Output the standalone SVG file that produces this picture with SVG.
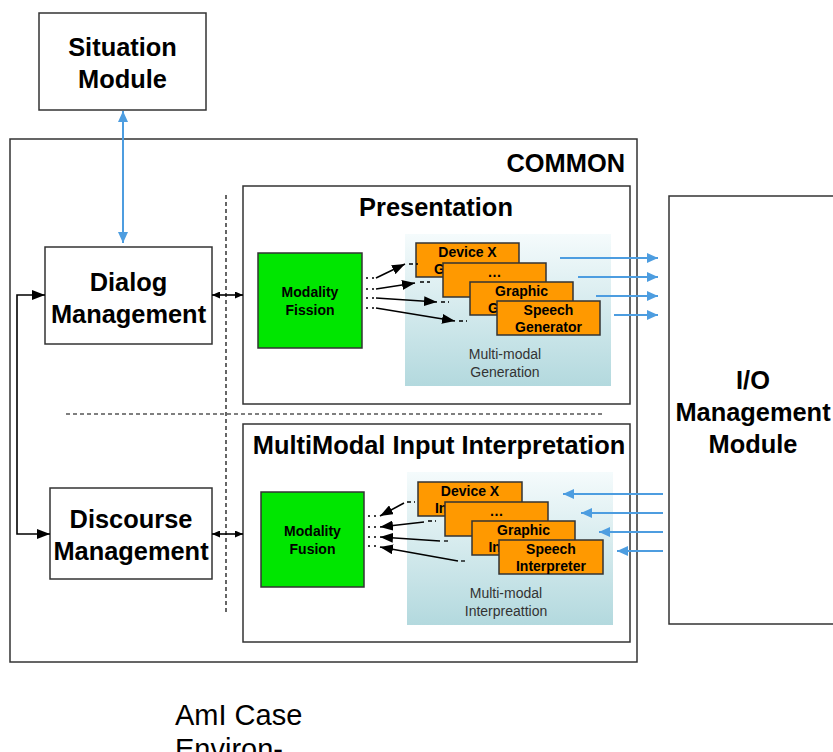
<svg xmlns="http://www.w3.org/2000/svg" width="833" height="752" viewBox="0 0 833 752">
<style>
.box{fill:#fff;stroke:#333;stroke-width:1.5}
.org{fill:#ff9900;stroke:#333;stroke-width:1.5}
.grn{fill:#00e600;stroke:#333;stroke-width:1.5}
.big{font-family:"Liberation Sans",Arial,sans-serif;font-weight:bold;font-size:25.4px;fill:#000;text-anchor:middle}
.sm{font-family:"Liberation Sans",Arial,sans-serif;font-weight:bold;font-size:14px;fill:#000;text-anchor:middle}
.lbl{font-family:"Liberation Sans",Arial,sans-serif;font-size:14px;fill:#333;text-anchor:middle}
.blk{stroke:#000;stroke-width:1.6;fill:none}
.blue{stroke:#4d9de0;stroke-width:2;fill:none}
.dots{stroke:#000;stroke-width:1.3;stroke-dasharray:2 4;fill:none}
.dsh{stroke:#000;stroke-width:1.3;stroke-dasharray:4 3;fill:none}
.sep{stroke:#000;stroke-width:1.2;stroke-dasharray:4 3;fill:none}
</style>
<defs>
<linearGradient id="pg" x1="0" y1="0" x2="0" y2="1">
<stop offset="0" stop-color="#f5fbfc"/>
<stop offset="1" stop-color="#b3d9de"/>
</linearGradient>
<marker id="ab" markerUnits="userSpaceOnUse" markerWidth="13" markerHeight="10" refX="13" refY="5" orient="auto-start-reverse"><path d="M0,0 L13,5 L0,10 z" fill="#000"/></marker>
<marker id="as" markerUnits="userSpaceOnUse" markerWidth="8" markerHeight="7" refX="8" refY="3.5" orient="auto-start-reverse"><path d="M0,0 L8,3.5 L0,7 z" fill="#000"/></marker>
<marker id="au" markerUnits="userSpaceOnUse" markerWidth="11" markerHeight="10" refX="11" refY="5" orient="auto-start-reverse"><path d="M0,0 L11,5 L0,10 z" fill="#4d9de0"/></marker>
</defs>
<rect width="833" height="752" fill="#fff"/>

<g id="common">
<rect class="box" x="10" y="139" width="627" height="523"/>
<text class="big" x="625" y="172" style="text-anchor:end">COMMON</text>
</g>

<g id="situation">
<rect class="box" x="39" y="13" width="167" height="97"/>
<text class="big" x="122.5" y="56">Situation</text>
<text class="big" x="122.5" y="88">Module</text>
</g>

<g id="dialog">
<rect class="box" x="45" y="247" width="167" height="97"/>
<text class="big" x="128.5" y="291">Dialog</text>
<text class="big" x="128.5" y="323">Management</text>
</g>

<g id="discourse">
<rect class="box" x="50" y="488" width="162" height="91"/>
<text class="big" x="131" y="528">Discourse</text>
<text class="big" x="131" y="560">Management</text>
</g>

<g id="separators">
<line class="sep" x1="226" y1="195" x2="226" y2="615"/>
<line class="sep" x1="66" y1="414" x2="603" y2="414"/>
</g>

<g id="presentation">
<rect class="box" x="243" y="186" width="387" height="218"/>
<text class="big" x="436" y="216">Presentation</text>
<rect x="405" y="234" width="206" height="152" fill="url(#pg)"/>
<text class="lbl" x="505" y="359">Multi-modal</text>
<text class="lbl" x="505" y="377">Generation</text>
</g>

<g id="fission">
<rect class="grn" x="258" y="253" width="104" height="95"/>
<text class="sm" x="310" y="297">Modality</text>
<text class="sm" x="310" y="315">Fission</text>
</g>

<g id="gen-devicex">
<rect class="org" x="416" y="243" width="103" height="34"/>
<text class="sm" x="467.5" y="257">Device X</text>
<text class="sm" x="467.5" y="274">Generator</text>
</g>
<g id="gen-dots">
<rect class="org" x="443" y="263" width="103" height="34"/>
<text class="sm" x="494.5" y="277">…</text>
</g>
<g id="gen-graphic">
<rect class="org" x="470" y="282" width="103" height="33"/>
<text class="sm" x="521.5" y="296">Graphic</text>
<text class="sm" x="521.5" y="313">Generator</text>
</g>
<g id="gen-speech">
<rect class="org" x="497" y="301" width="103" height="34"/>
<text class="sm" x="548.5" y="315">Speech</text>
<text class="sm" x="548.5" y="332">Generator</text>
</g>

<g id="mmii">
<rect class="box" x="243" y="424" width="387" height="218"/>
<text class="big" x="439" y="454">MultiModal Input Interpretation</text>
<rect x="407" y="472" width="206" height="153" fill="url(#pg)"/>
<text class="lbl" x="506" y="598">Multi-modal</text>
<text class="lbl" x="506" y="616">Interpreattion</text>
</g>

<g id="fusion">
<rect class="grn" x="261" y="492" width="103" height="95"/>
<text class="sm" x="312.5" y="536">Modality</text>
<text class="sm" x="312.5" y="554">Fusion</text>
</g>

<g id="int-devicex">
<rect class="org" x="418" y="482" width="104" height="34"/>
<text class="sm" x="470" y="496">Device X</text>
<text class="sm" x="470" y="513">Interpreter</text>
</g>
<g id="int-dots">
<rect class="org" x="445" y="502" width="103" height="34"/>
<text class="sm" x="496.5" y="516">…</text>
</g>
<g id="int-graphic">
<rect class="org" x="472" y="521" width="103" height="34"/>
<text class="sm" x="523.5" y="535">Graphic</text>
<text class="sm" x="523.5" y="552">Interpreter</text>
</g>
<g id="int-speech">
<rect class="org" x="499" y="540" width="104" height="34"/>
<text class="sm" x="551" y="554">Speech</text>
<text class="sm" x="551" y="571">Interpreter</text>
</g>

<g id="io">
<rect class="box" x="669" y="196" width="180" height="428"/>
<text class="big" x="753" y="389">I/O</text>
<text class="big" x="753" y="421">Management</text>
<text class="big" x="753" y="453">Module</text>
</g>

<g id="connectors">
<line class="blue" x1="123" y1="111" x2="123" y2="243" marker-start="url(#au)" marker-end="url(#au)"/>
<path class="blk" d="M45,295 H17 V534 H50" marker-start="url(#ab)" marker-end="url(#ab)"/>
<line class="blk" x1="212" y1="295" x2="243" y2="295" stroke-width="1.3" marker-start="url(#as)" marker-end="url(#as)"/>
<line class="blk" x1="212" y1="534" x2="243" y2="534" stroke-width="1.3" marker-start="url(#as)" marker-end="url(#as)"/>

<line class="dots" x1="366" y1="278" x2="376" y2="278"/>
<line class="blk" x1="376" y1="278" x2="405" y2="264" marker-end="url(#ab)"/>
<line class="dsh" x1="409" y1="264" x2="418" y2="264"/>
<line class="dots" x1="366" y1="289" x2="376" y2="289"/>
<line class="blk" x1="376" y1="289" x2="415" y2="283" marker-end="url(#ab)"/>
<line class="dsh" x1="420" y1="282" x2="430" y2="282"/>
<line class="dots" x1="366" y1="298" x2="376" y2="298"/>
<line class="blk" x1="376" y1="298" x2="437" y2="302" marker-end="url(#ab)"/>
<line class="dsh" x1="441" y1="302" x2="449" y2="302"/>
<line class="dots" x1="366" y1="308" x2="376" y2="308"/>
<line class="blk" x1="376" y1="308" x2="455" y2="321" marker-end="url(#ab)"/>
<line class="dsh" x1="459" y1="321" x2="467" y2="321"/>

<line class="dots" x1="368" y1="516" x2="378" y2="516"/>
<line class="blk" x1="404" y1="503" x2="380" y2="516" marker-end="url(#ab)"/>
<line class="dsh" x1="407" y1="502" x2="415" y2="502"/>
<line class="dots" x1="368" y1="527" x2="378" y2="527"/>
<line class="blk" x1="424" y1="522" x2="380" y2="527" marker-end="url(#ab)"/>
<line class="dsh" x1="428" y1="521" x2="436" y2="521"/>
<line class="dots" x1="368" y1="537" x2="378" y2="537"/>
<line class="blk" x1="440" y1="541" x2="380" y2="537" marker-end="url(#ab)"/>
<line class="dsh" x1="444" y1="541" x2="451" y2="541"/>
<line class="dots" x1="368" y1="546" x2="378" y2="546"/>
<line class="blk" x1="458" y1="561" x2="380" y2="547" marker-end="url(#ab)"/>
<line class="dsh" x1="461" y1="561" x2="468" y2="561"/>

<line class="blue" x1="560" y1="258" x2="658" y2="258" marker-end="url(#au)"/>
<line class="blue" x1="578" y1="277" x2="658" y2="277" marker-end="url(#au)"/>
<line class="blue" x1="596" y1="296" x2="658" y2="296" marker-end="url(#au)"/>
<line class="blue" x1="614" y1="315" x2="658" y2="315" marker-end="url(#au)"/>

<line class="blue" x1="663" y1="494" x2="563" y2="494" marker-end="url(#au)"/>
<line class="blue" x1="663" y1="513" x2="581" y2="513" marker-end="url(#au)"/>
<line class="blue" x1="663" y1="532" x2="599" y2="532" marker-end="url(#au)"/>
<line class="blue" x1="663" y1="551" x2="617" y2="551" marker-end="url(#au)"/>
</g>

<g id="caption">
<text x="175" y="725" font-family="Liberation Sans, Arial, sans-serif" font-size="29" fill="#000">AmI Case</text>
<text x="175" y="759" font-family="Liberation Sans, Arial, sans-serif" font-size="29" fill="#000">Environ-</text>
</g>
</svg>
